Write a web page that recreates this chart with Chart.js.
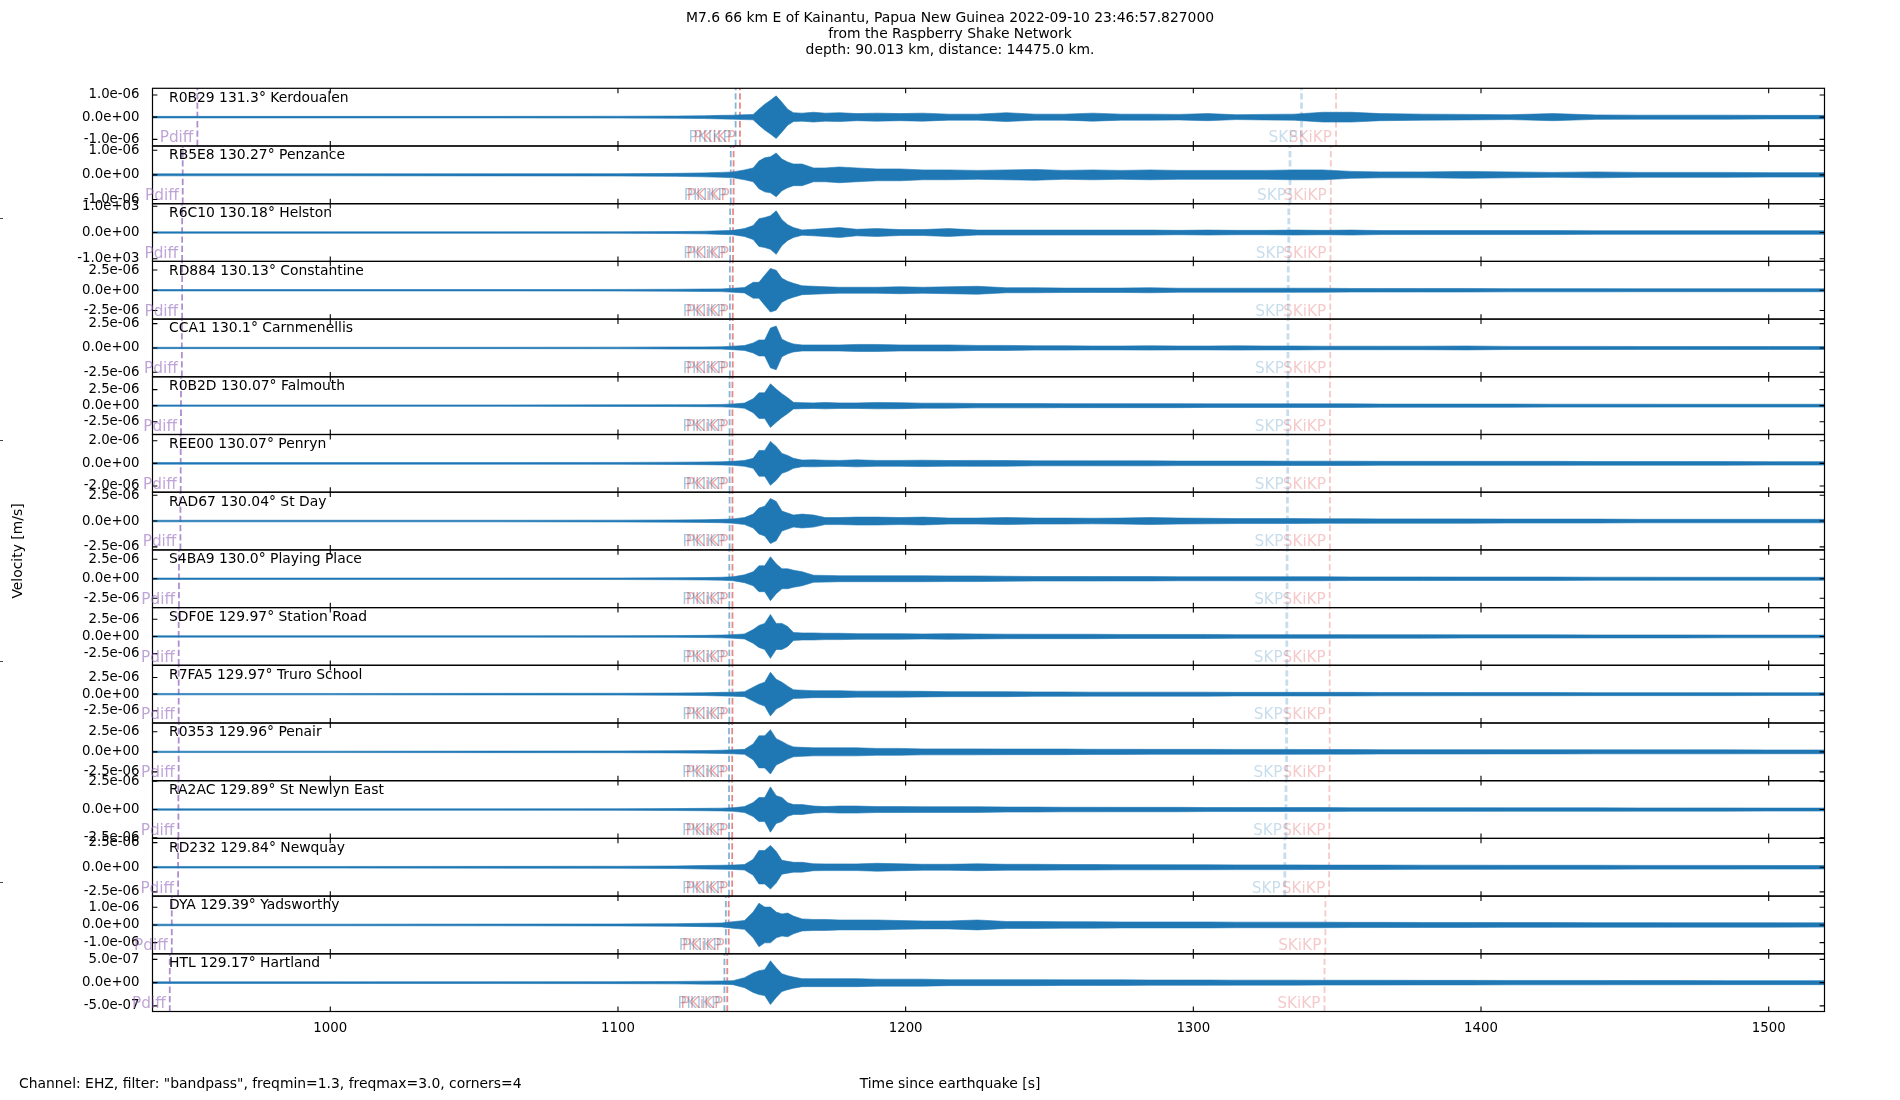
<!DOCTYPE html>
<html><head><meta charset="utf-8">
<script src="https://cdn.jsdelivr.net/npm/chart.js@4.4.0/dist/chart.umd.min.js"></script>
<style>
html,body{margin:0;padding:0;background:#fff;}
body{width:1900px;height:1100px;position:relative;overflow:hidden;}
canvas{position:absolute;left:0;}
</style></head><body>
<script>
// ---------------- DATA ----------------
const STATIONS  = ['R0B29','RB5E8','R6C10','RD884','CCA1','R0B2D','REE00','RAD67','S4BA9','SDF0E','R7FA5','R0353','RA2AC','RD232','DYA','HTL'];
const DISTANCES = ['131.3','130.27','130.18','130.13','130.1','130.07','130.07','130.04','130.0','129.97','129.97','129.96','129.89','129.84','129.39','129.17'];
const PLACES    = ['Kerdoualen','Penzance','Helston','Constantine','Carnmenellis','Falmouth','Penryn','St Day','Playing Place','Station Road','Truro School','Penair','St Newlyn East','Newquay','Yadsworthy','Hartland'];

const Y_TICK  = [1.0e-6,1.0e-6,1.0e3,2.5e-6,2.5e-6,2.5e-6,2.0e-6,2.5e-6,2.5e-6,2.5e-6,2.5e-6,2.5e-6,2.5e-6,2.5e-6,1.0e-6,5.0e-7];
const Y_LIMIT = [1.3e-6,1.17e-6,1.1e3,3.57e-6,2.96e-6,4.5e-6,2.55e-6,2.79e-6,3.7e-6,4.2e-6,4.35e-6,3.6e-6,2.55e-6,2.93e-6,1.63e-6,6.2e-7];
const X_TICKS = [1000,1100,1200,1300,1400,1500];
const X_MIN = 938.2, X_MAX = 1519.4;

// sample times (s since earthquake) of the amplitude envelope
const TIMES = [938,1000,1060,1100,1120,1130,1136,1140,1144,1147,1149,1151,1153,1155,1157,1159,1161,1164,1168,1172,1177,1183,1190,1198,1206,1215,1225,1235,1245,1255,1265,1275,1285,1295,1305,1315,1325,1335,1345,1355,1365,1380,1395,1410,1425,1440,1455,1470,1485,1500,1520];
// unit of each envelope array
const AMP_UNIT = [1e-7,1e-7,100,1e-7,1e-7,1e-7,1e-7,1e-7,1e-7,1e-7,1e-7,1e-7,1e-7,1e-7,1e-7,1e-8];

const ENV_R0B29 = [0.36,0.36,0.36,0.4,0.5,0.63,0.8,0.9,1.1,1.2,3.6,5.8,7.6,9.6,6.7,3.6,2.0,1.8,2.2,1.8,2.0,1.6,1.8,1.6,1.8,1.35,1.35,2.0,1.35,1.35,1.8,1.35,1.35,1.25,1.6,1.1,1.25,1.35,2.2,2.2,1.6,1.35,1.25,1.1,1.6,1.0,0.9,0.9,0.9,0.8,0.8];
const ENV_RB5E8 = [0.4,0.4,0.44,0.48,0.6,0.8,1.0,1.2,2.0,2.8,5.6,6.9,7.3,8.9,6.4,5.2,4.4,4.4,2.8,2.8,3.2,2.8,2.4,2.4,2.0,2.0,1.8,2.0,2.2,1.8,2.0,1.8,2.0,1.8,1.8,1.8,1.8,2.0,2.0,1.4,1.2,1.2,1.4,1.2,1.0,1.2,1.0,1.0,1.0,0.9,0.9];
const ENV_R6C10 = [0.27,0.27,0.27,0.3,0.38,0.5,0.7,0.83,1.5,2.65,5.3,5.7,6.4,8.3,4.9,3.0,1.9,1.0,1.25,1.5,1.9,1.25,1.5,1.14,1.14,1.5,0.95,0.95,0.95,0.95,0.95,0.95,0.95,0.83,0.95,0.83,0.83,0.95,0.83,0.95,0.76,0.76,0.76,0.76,0.76,0.68,0.68,0.68,0.68,0.68,0.68];
const ENV_RD884 = [0.86,0.86,0.86,1.0,1.2,1.5,1.7,2.5,3.3,9.8,9.8,18.5,27,24.6,14.8,11,8.6,5.5,4.9,4.3,3.7,3.7,3.7,4.3,3.7,4.3,4.9,3.1,3.1,2.7,2.7,2.7,3.1,2.5,2.5,2.5,2.5,2.5,2.5,2.2,2.2,2.2,2.2,2.0,2.0,2.0,1.85,1.85,1.85,1.85,1.85];
const ENV_CCA1  = [0.7,0.7,0.7,0.8,1.0,1.1,1.2,1.8,2.5,5.1,8.2,8.2,20.4,22.4,9,6,4.1,3.1,3.1,3.1,3.1,3.6,3.6,3.1,3.1,3.1,2.6,2.6,2.2,2.2,2.0,2.0,2.2,2.0,2.0,2.2,2.0,2.0,1.8,1.8,1.8,1.8,2.0,1.6,1.6,1.6,1.5,1.5,1.5,1.5,1.5];
const ENV_R0B2D = [1.1,1.1,1.1,1.24,1.4,1.55,1.9,2.6,4,10.9,20,20,34,26,18.6,12.4,5.2,4.7,4.3,5.0,4.3,4.3,5.0,4.7,3.9,3.9,3.4,3.4,3.4,3.1,3.1,3.1,3.1,3.1,2.8,2.8,2.8,2.8,2.8,2.8,2.5,2.5,2.5,2.5,2.3,2.3,2.3,2.2,2.2,2.2,2.2];
const ENV_REE00 = [0.7,0.7,0.7,0.8,1.0,1.2,1.4,1.76,2.6,4.4,11.4,11.4,19.4,15,8.8,7,4.4,2.9,3.1,2.8,2.6,3.1,2.6,2.6,2.8,2.5,2.6,2.5,2.2,2.2,2.2,2.2,2.2,2.0,2.0,2.0,2.0,1.9,1.9,1.9,1.76,1.76,1.76,1.76,1.76,1.6,1.6,1.6,1.6,1.5,1.5];
const ENV_RAD67 = [0.77,0.77,0.77,0.86,1.06,1.34,1.63,2.1,3.4,6.7,12.5,14.4,21.8,19,9.6,7.7,5.8,6.7,5.8,3.4,3.4,3.8,3.8,3.4,3.8,2.9,2.9,3.4,2.9,2.9,2.7,2.9,3.4,2.9,2.7,2.4,2.4,2.4,2.2,2.2,2.1,2.1,2.1,1.9,1.9,1.9,1.7,1.7,1.7,1.7,1.7];
const ENV_S4BA9 = [0.9,0.9,0.9,1.0,1.28,1.5,1.9,2.56,5,9,16.6,16.6,28.2,19.2,12.8,12.8,11,9,4.5,4.3,3.8,3.8,3.8,3.8,3.8,3.6,3.6,3.2,2.9,2.9,2.9,2.8,2.8,2.56,2.56,2.56,2.56,2.56,2.56,2.3,2.3,2.3,2.2,2.2,2.2,2.0,2.0,1.9,1.9,1.9,1.9];
const ENV_SDF0E = [1.0,1.0,1.0,1.16,1.3,1.6,2.0,2.6,3.6,10,16,19,31.9,19,19,14.5,5.8,5.1,5.1,4.6,4.6,4.1,4.1,4.1,3.6,4.1,3.6,3.3,3.2,3.2,3.2,2.9,2.9,2.9,2.9,2.6,2.6,2.6,2.6,2.5,2.5,2.5,2.3,2.3,2.3,2.2,2.2,2.2,2.0,2.0,2.0];
const ENV_R7FA5 = [1.05,1.05,1.2,1.35,1.65,2.1,2.7,3.0,3.75,10.5,15,18,33,22.5,18,12,6.5,6,5.25,5.25,5.25,4.5,4.5,4.5,4.2,3.75,3.75,3.75,3.3,3.3,3.0,3.0,3.0,3.0,3.0,2.7,2.7,2.7,2.7,2.7,2.55,2.55,2.4,2.4,2.4,2.25,2.25,2.25,2.25,2.1,2.1];
const ENV_R0353 = [0.87,0.87,1.0,1.1,1.36,1.6,2.0,2.5,3.1,9.9,20,20,27.7,16.5,13,9,6.2,5.6,5.0,5.0,5.0,5.0,4.3,4.3,3.7,3.7,3.7,3.5,3.5,3.5,3.2,3.2,3.1,3.1,3.1,3.0,3.0,3.0,2.85,2.85,2.7,2.7,2.7,2.6,2.6,2.5,2.5,2.5,2.5,2.36,2.36];
const ENV_RA2AC = [0.62,0.62,0.62,0.7,0.88,1.06,1.23,1.58,2.6,6.2,10.6,10.6,20,12.3,10.6,6,4.4,4.4,3.1,2.6,3.1,3.1,2.6,2.6,2.5,2.5,2.5,2.2,2.2,2.0,2.0,1.94,1.94,1.94,1.76,1.76,1.76,1.76,1.76,1.58,1.58,1.58,1.58,1.5,1.5,1.5,1.4,1.4,1.4,1.32,1.32];
const ENV_RD232 = [0.8,0.8,0.9,1.0,1.3,1.8,2.0,2.2,2.8,8,17,17,22.2,16,7,6,5,5,3.5,3.4,3.4,3.4,4,3.5,3.0,3.0,3.5,3.0,3.0,2.8,2.8,2.6,2.6,2.5,2.5,2.4,2.4,2.4,2.2,2.2,2.2,2.1,2.1,2.0,2.0,2.0,1.9,1.9,1.9,1.8,1.8];
const ENV_DYA   = [0.45,0.45,0.5,0.56,0.73,0.95,1.1,1.85,2.5,7.3,12.3,10.1,10.1,7.3,6.2,6.7,5,3.4,3.1,3.1,2.8,2.8,2.8,2.5,2.24,2.24,2.8,1.96,1.96,1.8,1.8,1.68,1.68,1.68,1.68,1.57,1.57,1.57,1.57,1.46,1.46,1.4,1.4,1.34,1.34,1.29,1.29,1.23,1.23,1.23,1.18];
const ENV_HTL   = [1.7,1.7,1.9,2.1,2.6,3.2,3.6,4.3,10.7,21,25.7,27.8,47,32,19,15,12,8.6,8.6,8.6,8.6,8.6,7.5,7.5,7.5,6.4,6.4,6.4,6.4,6.0,6.0,6.0,5.6,5.6,5.6,5.35,5.35,5.35,5.1,5.1,5.1,4.9,4.9,4.7,4.7,4.7,4.5,4.5,4.3,4.3,4.3];
const ENVELOPES = [ENV_R0B29,ENV_RB5E8,ENV_R6C10,ENV_RD884,ENV_CCA1,ENV_R0B2D,ENV_REE00,ENV_RAD67,ENV_S4BA9,ENV_SDF0E,ENV_R7FA5,ENV_R0353,ENV_RA2AC,ENV_RD232,ENV_DYA,ENV_HTL];

// phase arrival times (s)
const PDIFF_T = [953.8,948.7,948.5,948.5,948.4,948.1,948.0,947.9,947.4,947.3,947.3,947.3,947.2,947.1,944.9,944.2];
const PKIKP_T = [1140.9,1139.2,1139.0,1138.9,1138.9,1138.8,1138.8,1138.8,1138.7,1138.7,1138.7,1138.6,1138.6,1138.6,1137.5,1137.0];
const PKiKP_T = [1142.4,1140.2,1140.0,1139.9,1139.9,1139.8,1139.8,1139.8,1139.8,1139.8,1139.8,1139.7,1139.7,1139.7,1138.5,1138.0];
const SKP_T   = [1337.6,1333.6,1333.2,1333.0,1332.9,1332.8,1332.8,1332.7,1332.6,1332.5,1332.5,1332.4,1332.2,1331.8,null,null];
const SKiKP_T = [1349.6,1347.8,1347.7,1347.6,1347.6,1347.5,1347.5,1347.5,1347.4,1347.4,1347.4,1347.4,1347.3,1347.2,1345.9,1345.6];

const TITLE_LINES = ['M7.6 66 km E of Kainantu, Papua New Guinea 2022-09-10 23:46:57.827000','from the Raspberry Shake Network','depth: 90.013 km, distance: 14475.0 km.'];
const Y_LABEL = 'Velocity [m/s]';
const X_LABEL = 'Time since earthquake [s]';
const FOOTER = 'Channel: EHZ, filter: "bandpass", freqmin=1.3, freqmax=3.0, corners=4';

// ---------------- STYLE / LAYOUT ----------------
const TRACE = '#1f77b4';
const PHASES = [
  {label:'Pdiff', times:PDIFF_T, line:'rgba(148,103,189,0.75)', text:'rgba(148,103,189,0.6)', width:1.8},
  {label:'PKIKP', times:PKIKP_T, line:'rgba(31,119,180,0.55)', text:'rgba(31,119,180,0.4)', width:1.8},
  {label:'PKiKP', times:PKiKP_T, line:'rgba(214,39,40,0.55)', text:'rgba(214,39,40,0.4)', width:1.8},
  {label:'SKP',   times:SKP_T,   line:'rgba(31,119,180,0.25)', text:'rgba(31,119,180,0.25)', width:2.8},
  {label:'SKiKP', times:SKiKP_T, line:'rgba(214,39,40,0.25)', text:'rgba(214,39,40,0.25)', width:1.8}
];
const LEFT = 152.5, RIGHT = 1824.5, TOP0 = 88.3, PH = 57.7, EXT = 14;
const FONT = '"DejaVu Sans", sans-serif';

function sci(v){
  if (Math.abs(v) < 1e-30) return '0.0e+00';
  return v.toExponential(1).replace(/e([+-])(\d)$/, 'e$10$2');
}

// background canvas with figure texts
const bg = document.createElement('canvas');
bg.width = 1900; bg.height = 1100; bg.style.top = '0px';
document.body.appendChild(bg);
(function(){
  const c = bg.getContext('2d');
  c.fillStyle = '#fff'; c.fillRect(0,0,1900,1100);
  c.fillStyle = '#000'; c.font = '13.9px ' + FONT; c.textAlign = 'center'; c.textBaseline = 'alphabetic';
  TITLE_LINES.forEach((s,k)=> c.fillText(s, 950, 21.5 + k*16));
  c.fillText(X_LABEL, 950, 1087.5);
  c.textAlign = 'left';
  c.fillText(FOOTER, 19, 1087.5);
  c.save(); c.translate(22, 551); c.rotate(-Math.PI/2); c.textAlign='center'; c.fillText(Y_LABEL, 0, 0); c.restore();
  c.strokeStyle = '#444'; c.lineWidth = 1;
  [218,440,661,882].forEach(y=>{ c.beginPath(); c.moveTo(0,y+0.5); c.lineTo(3,y+0.5); c.stroke(); });
})();

const panelPlugin = {
  id: 'panel',
  afterDraw(chart, args, opts){
    const {ctx, chartArea:a} = chart;
    const x = chart.scales.x, y = chart.scales.y;
    const i = opts.index;
    ctx.save();
    ctx.strokeStyle = '#000'; ctx.lineWidth = 1.2;
    ctx.strokeRect(a.left, a.top, a.right - a.left, a.bottom - a.top);
    ctx.lineWidth = 1.1;
    ctx.beginPath();
    X_TICKS.forEach(v=>{ const px = x.getPixelForValue(v);
      ctx.moveTo(px, a.top); ctx.lineTo(px, a.top + 4.9);
      ctx.moveTo(px, a.bottom); ctx.lineTo(px, a.bottom - 4.9); });
    [-Y_TICK[i], 0, Y_TICK[i]].forEach(v=>{ const py = y.getPixelForValue(v);
      ctx.moveTo(a.left, py); ctx.lineTo(a.left + 4.9, py);
      ctx.moveTo(a.right, py); ctx.lineTo(a.right - 4.9, py); });
    ctx.stroke();
    ctx.fillStyle = '#000'; ctx.font = '13.9px ' + FONT; ctx.textAlign = 'left'; ctx.textBaseline = 'alphabetic';
    ctx.fillText(STATIONS[i] + ' ' + DISTANCES[i] + '\u00b0 ' + PLACES[i], a.left + 16.5, a.top + 13.3);
    ctx.font = '15.3px ' + FONT; ctx.textAlign = 'right';
    PHASES.forEach(ph=>{ const t = ph.times[i]; if (t == null) return;
      ctx.fillStyle = ph.text; ctx.fillText(ph.label, x.getPixelForValue(t) - 4, a.bottom - 3.6); });
    ctx.restore();
  }
};

for (let i = 0; i < STATIONS.length; i++){
  const top = TOP0 + i*PH;
  const last = i === STATIONS.length - 1;
  const cTop = Math.floor(top) - EXT;
  const padTop = top - cTop;
  const xh = last ? 28 : 0;
  const cH = Math.ceil(padTop + PH + (last ? xh + 6 : EXT));
  const padBottom = cH - padTop - PH - xh;
  const cv = document.createElement('canvas');
  cv.width = 1900; cv.height = cH;
  cv.style.top = cTop + 'px'; cv.style.width = '1900px'; cv.style.height = cH + 'px';
  document.body.appendChild(cv);
  const unit = AMP_UNIT[i], env = ENVELOPES[i], lim = Y_LIMIT[i], tk = Y_TICK[i];
  const upper = TIMES.map((t,k)=>({x:t, y: env[k]*unit}));
  const lower = TIMES.map((t,k)=>({x:t, y: -env[k]*unit}));
  const datasets = [
    {data:upper, borderColor:TRACE, backgroundColor:TRACE, borderWidth:0.6, pointRadius:0, fill:'+1', tension:0},
    {data:lower, borderColor:TRACE, backgroundColor:TRACE, borderWidth:0.6, pointRadius:0, fill:false, tension:0}
  ];
  PHASES.forEach(ph=>{ const t = ph.times[i]; if (t == null) return;
    datasets.push({data:[{x:t,y:-lim},{x:t,y:lim}], borderColor:ph.line, borderWidth:ph.width, borderDash:[6.3,3], pointRadius:0, fill:false}); });
  new Chart(cv, {
    type:'line',
    data:{datasets},
    options:{
      responsive:false, animation:false, events:[], devicePixelRatio:1,
      layout:{padding:{left:0, right:1900 - RIGHT, top:padTop, bottom:padBottom}},
      plugins:{legend:{display:false}, tooltip:{enabled:false}, panel:{index:i}},
      scales:{
        x:{type:'linear', min:X_MIN, max:X_MAX,
           grid:{display:false}, border:{display:false},
           afterBuildTicks:s=>{ s.ticks = X_TICKS.map(v=>({value:v})); },
           afterFit:s=>{ s.height = xh; },
           ticks:{display:last, padding:1, autoSkip:false, maxRotation:0, color:'#000', font:{family:FONT, size:13.3}, callback:v=>String(v)}},
        y:{type:'linear', min:-lim, max:lim,
           grid:{display:false}, border:{display:false},
           afterBuildTicks:s=>{ s.ticks = [{value:-tk},{value:0},{value:tk}]; },
           afterFit:s=>{ s.width = LEFT; },
           ticks:{padding:5, autoSkip:false, color:'#000', font:{family:FONT, size:13.3}, callback:v=>sci(v)}}
      }
    },
    plugins:[panelPlugin]
  });
}
</script>
</body></html>
